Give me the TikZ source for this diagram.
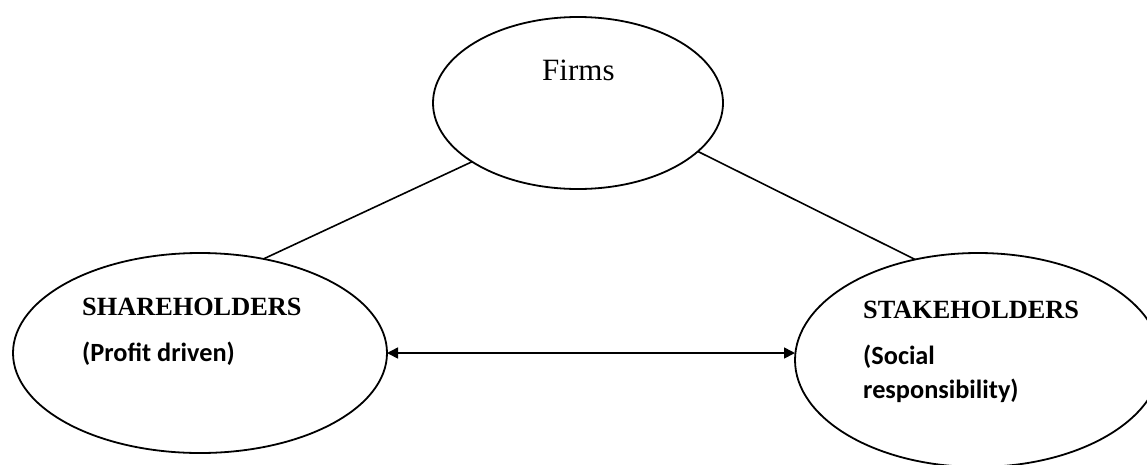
\documentclass[tikz,border=0pt]{standalone}
\usepackage{fontspec}
\setmainfont{Liberation Serif}
\newfontfamily\labelsans{Carlito}
\usetikzlibrary{shapes.geometric,arrows.meta}

\begin{document}
\begin{tikzpicture}[x=1pt,y=-1pt,
  oval/.style={draw,ellipse,line width=1.8pt,inner sep=0pt,outer sep=0pt},
  link/.style={line width=1.6pt},
  both/.style={line width=1.6pt,{Triangle[length=11pt,width=11pt]}-{Triangle[length=11pt,width=11pt]}},
  caption/.style={anchor=base west,inner sep=0pt,font=\fontsize{26.3}{30}\selectfont\bfseries},
  note/.style={anchor=base west,inner sep=0pt,font=\fontsize{26.3}{30}\selectfont\labelsans\bfseries}
]
\useasboundingbox (0,0) rectangle (1147,464);

% the three parties
\node[oval,minimum width=290pt,minimum height=172pt] (F) at (578,103) {};
\node[oval,minimum width=374pt,minimum height=200pt] (S) at (200,353) {};
\node[oval,minimum width=366pt,minimum height=214pt] (K) at (978,360) {};

% labels
\node[anchor=base west,inner sep=0pt,font=\fontsize{31}{36}\selectfont] (ft) at (542,80) {Firms};
\node[caption] (st) at (82,315) {SHAREHOLDERS};
\node[note] (sn) at (82,361) {(Profit driven)};
\node[caption] (kt) at (863,318) {STAKEHOLDERS};
\node[note] (kn1) at (863,364) {(Social};
\node[note] (kn2) at (863,398) {responsibility)};

% connectors
\draw[link] (F.209) -- (S.56.7);
\draw[link] (F.338.5) -- (K.122.2);
\draw[both] (S.east) -- (S.east -| K.west);
\end{tikzpicture}
\end{document}
